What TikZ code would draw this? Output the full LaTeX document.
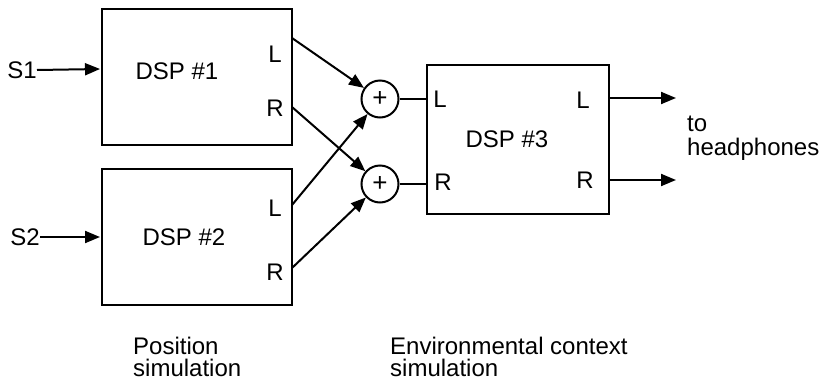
\documentclass[tikz,border=0pt]{standalone}
\usepackage{fontspec}
\setmainfont{Liberation Sans}
\usetikzlibrary{arrows.meta}
\begin{document}
\begin{tikzpicture}[x=1pt,y=-1pt,
  box/.style={draw,line width=2.6pt},
  sumnode/.style={draw,circle,line width=2pt,minimum size=37pt,inner sep=0pt,font=\fontsize{26}{26}\selectfont},
  conn/.style={line width=2pt,-{Triangle[length=15pt,width=12pt]}},
  wire/.style={line width=2pt},
  lbl/.style={font=\fontsize{24}{24}\selectfont,inner sep=0pt},
  txt/.style={font=\fontsize{24}{24}\selectfont,inner sep=0pt,anchor=base west}]
\useasboundingbox (0,0) rectangle (823,381);
% boxes
\draw[box] (102,9) rectangle (292,145);
\draw[box] (102,169) rectangle (292,305);
\draw[box] (427,65) rectangle (609,214);
\node[lbl] (d1) at (177,71) {DSP \#1};
\node[lbl] (d2) at (184,237) {DSP \#2};
\node[lbl] (d3) at (507,139) {DSP \#3};
% port labels
\node[lbl] (l1) at (275,54) {L};
\node[lbl] (r1) at (275,108) {R};
\node[lbl] (l2) at (275,208) {L};
\node[lbl] (r2) at (275,272) {R};
\node[lbl] (l3i) at (440,99) {L};
\node[lbl] (r3i) at (443,182) {R};
\node[lbl] (l3o) at (583,100) {L};
\node[lbl] (r3o) at (585,180) {R};
% port coordinates
\coordinate (o1l) at (292,38);
\coordinate (o1r) at (292,107);
\coordinate (o2l) at (292,205);
\coordinate (o2r) at (292,268);
\coordinate (i3l) at (427,99);
\coordinate (i3r) at (427,184);
\coordinate (o3l) at (609,98);
\coordinate (o3r) at (609,180);
\coordinate (e3l) at (676,98);
\coordinate (e3r) at (676,180);
\coordinate (i1) at (100,69);
\coordinate (i2) at (100,237);
% sums
\node[sumnode] (p1) at (380,99) {+};
\node[sumnode] (p2) at (380,184) {+};
% inputs
\node[lbl,anchor=east] (s1) at (37,70) {S1};
\node[lbl,anchor=east] (s2) at (40,237) {S2};
\draw[conn] (s1.east) -- (i1);
\draw[conn] (s2.east) -- (i2);
% crossings
\draw[conn] (o1l) -- (p1);
\draw[conn] (o1r) -- (p2);
\draw[conn] (o2l) -- (p1);
\draw[conn] (o2r) -- (p2);
\draw[wire] (p1) -- (i3l);
\draw[wire] (p2) -- (i3r);
\draw[conn] (o3l) -- (e3l);
\draw[conn] (o3r) -- (e3r);
% texts
\node[txt] (hp1) at (687,131) {to};
\node[txt] (hp2) at (687,155) {headphones};
\node[txt] (ps1) at (133,354) {Position};
\node[txt] (ps2) at (133,376) {simulation};
\node[txt] (es1) at (390,354) {Environmental context};
\node[txt] (es2) at (390,376) {simulation};
\end{tikzpicture}
\end{document}
